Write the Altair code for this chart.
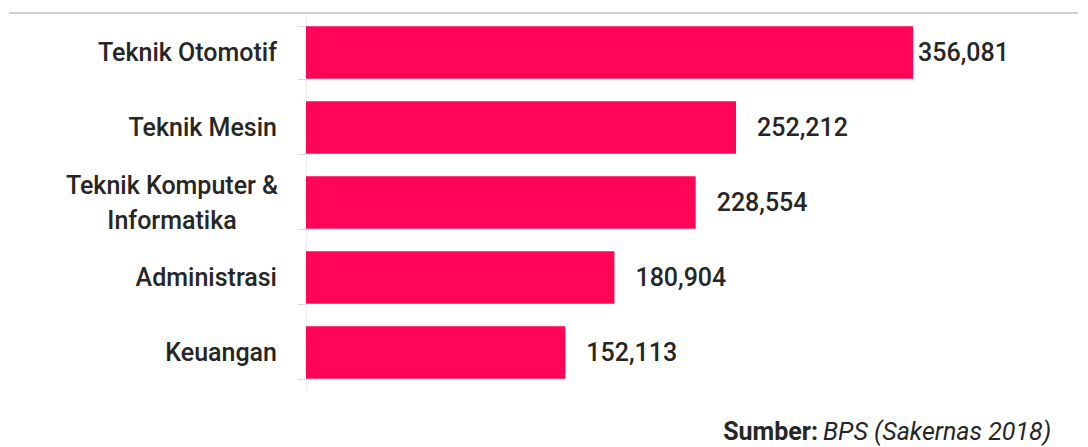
import altair as alt
import pandas as pd

categories = ["Teknik Otomotif", "Teknik Mesin", "Teknik Komputer &\nInformatika", "Administrasi", "Keuangan"]
values = [356081, 252212, 228554, 180904, 152113]

df = pd.DataFrame({"kategori": categories, "nilai": values})

FONT = "Roboto"
BAR = "#FE0557"
TXT = "#262626"

y_enc = alt.Y(
    "kategori:N",
    sort=categories,
    title=None,
    scale=alt.Scale(paddingInner=0.3, paddingOuter=0.15),
    axis=alt.Axis(
        labels=False,
        tickBand="extent",
        tickSize=9,
        tickColor="#d9d9d9",
        domainColor="#eeeeee",
        grid=False,
    ),
)
x_enc = alt.X("nilai:Q", scale=alt.Scale(domain=[0, 400000]), axis=None)

base = alt.Chart(df)

bars = base.mark_bar(color=BAR).encode(x=x_enc, y=y_enc)

labels_first = base.transform_filter(alt.datum.kategori == categories[0]).mark_text(
    align="left", baseline="middle", dx=5, font=FONT, fontSize=25, fontWeight=500, color=TXT
).encode(x=x_enc, y=y_enc, text=alt.Text("nilai:Q", format=",d"))

labels_rest = base.transform_filter(alt.datum.kategori != categories[0]).mark_text(
    align="left", baseline="middle", dx=21, font=FONT, fontSize=25, fontWeight=500, color=TXT
).encode(x=x_enc, y=y_enc, text=alt.Text("nilai:Q", format=",d"))

cat_single = base.transform_filter("indexof(datum.kategori, '\\n') < 0").mark_text(
    align="right", baseline="middle", font=FONT, fontSize=25, fontWeight=500, color=TXT
).encode(x=alt.value(-29), y=y_enc, text="kategori:N")

cat_multi = base.transform_filter("indexof(datum.kategori, '\\n') >= 0").transform_calculate(
    lines="split(datum.kategori, '\\n')"
).mark_text(
    align="center", baseline="middle", font=FONT, fontSize=25, fontWeight=500, color=TXT,
    lineHeight=35, dy=-17
).encode(x=alt.value(-134), y=y_enc, text="lines:N")

top_line = alt.Chart(pd.DataFrame({"a": [0]})).mark_rule(color="#cfcfcf", strokeWidth=2).encode(
    x=alt.value(-297), x2=alt.value(800), y=alt.value(-2)
)

src_bold = alt.Chart(pd.DataFrame({"t": ["Sumber:"]})).mark_text(
    align="right", baseline="alphabetic", font=FONT, fontSize=25, fontWeight="bold", color=TXT
).encode(text="t:N", x=alt.value(512), y=alt.value(425))

src_ital = alt.Chart(pd.DataFrame({"t": ["BPS (Sakernas 2018)"]})).mark_text(
    align="left", baseline="alphabetic", font=FONT, fontSize=25, fontStyle="italic", color=TXT
).encode(text="t:N", x=alt.value(517), y=alt.value(425))

chart = alt.layer(
    bars, labels_first, labels_rest, cat_single, cat_multi, top_line, src_bold, src_ital
).properties(
    width=682,
    height=375,
    autosize=alt.AutoSizeParams(type="none"),
    padding={"left": 298, "top": 7, "right": 90, "bottom": 56},
).configure(background="white").configure_view(stroke=None)

chart.save("out.html", embed_options={"renderer": "svg", "actions": False})
